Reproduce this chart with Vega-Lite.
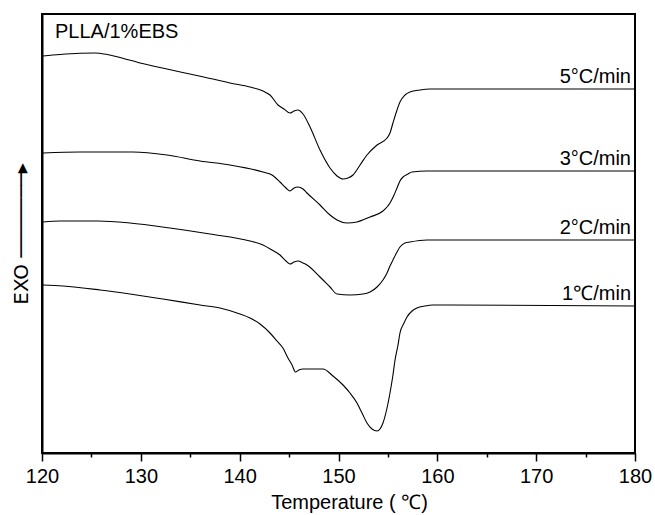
{
  "$schema": "https://vega.github.io/schema/vega-lite/v6.json",
  "autosize": {"type": "none"},
  "padding": {"left": 42, "top": 14, "right": 20, "bottom": 62},
  "width": 593,
  "height": 439,
  "background": "white",
  "config": {
    "font": "Liberation Sans",
    "view": {"stroke": "#000", "strokeWidth": 2}
  },
  "title": {
    "text": "PLLA/1%EBS",
    "anchor": "start",
    "frame": "group",
    "orient": "top",
    "offset": 0,
    "dx": 13,
    "dy": 44,
    "baseline": "alphabetic",
    "fontSize": 20,
    "fontWeight": "normal",
    "font": "Liberation Sans",
    "color": "#000"
  },
  "data": {
    "values": [
      {"rate": "5°C/min", "T": 120.10, "v": 397},
      {"rate": "5°C/min", "T": 121.82, "v": 398.5},
      {"rate": "5°C/min", "T": 123.84, "v": 399.7},
      {"rate": "5°C/min", "T": 125.36, "v": 400},
      {"rate": "5°C/min", "T": 126.50, "v": 398.7},
      {"rate": "5°C/min", "T": 127.90, "v": 395.5},
      {"rate": "5°C/min", "T": 129.92, "v": 390},
      {"rate": "5°C/min", "T": 132.65, "v": 384},
      {"rate": "5°C/min", "T": 134.97, "v": 379},
      {"rate": "5°C/min", "T": 137.30, "v": 374},
      {"rate": "5°C/min", "T": 139.02, "v": 370},
      {"rate": "5°C/min", "T": 141.04, "v": 366},
      {"rate": "5°C/min", "T": 142.36, "v": 362},
      {"rate": "5°C/min", "T": 143.07, "v": 358},
      {"rate": "5°C/min", "T": 143.88, "v": 348},
      {"rate": "5°C/min", "T": 144.49, "v": 344},
      {"rate": "5°C/min", "T": 145.09, "v": 340},
      {"rate": "5°C/min", "T": 145.50, "v": 342},
      {"rate": "5°C/min", "T": 145.90, "v": 343},
      {"rate": "5°C/min", "T": 146.41, "v": 339},
      {"rate": "5°C/min", "T": 147.12, "v": 326},
      {"rate": "5°C/min", "T": 148.13, "v": 303},
      {"rate": "5°C/min", "T": 149.14, "v": 285},
      {"rate": "5°C/min", "T": 149.85, "v": 277},
      {"rate": "5°C/min", "T": 150.46, "v": 274},
      {"rate": "5°C/min", "T": 150.96, "v": 275},
      {"rate": "5°C/min", "T": 151.47, "v": 278},
      {"rate": "5°C/min", "T": 152.18, "v": 288},
      {"rate": "5°C/min", "T": 152.88, "v": 298},
      {"rate": "5°C/min", "T": 153.90, "v": 308},
      {"rate": "5°C/min", "T": 154.91, "v": 315},
      {"rate": "5°C/min", "T": 155.21, "v": 320},
      {"rate": "5°C/min", "T": 155.51, "v": 330},
      {"rate": "5°C/min", "T": 155.92, "v": 343},
      {"rate": "5°C/min", "T": 156.22, "v": 351},
      {"rate": "5°C/min", "T": 156.73, "v": 358},
      {"rate": "5°C/min", "T": 157.23, "v": 361},
      {"rate": "5°C/min", "T": 158.25, "v": 363},
      {"rate": "5°C/min", "T": 159.26, "v": 364},
      {"rate": "5°C/min", "T": 161.28, "v": 364},
      {"rate": "5°C/min", "T": 180.00, "v": 364},

      {"rate": "3°C/min", "T": 120.10, "v": 300},
      {"rate": "3°C/min", "T": 123.84, "v": 301},
      {"rate": "3°C/min", "T": 129.21, "v": 301},
      {"rate": "3°C/min", "T": 132.65, "v": 298},
      {"rate": "3°C/min", "T": 135.99, "v": 292},
      {"rate": "3°C/min", "T": 139.02, "v": 288},
      {"rate": "3°C/min", "T": 142.36, "v": 281},
      {"rate": "3°C/min", "T": 143.27, "v": 278},
      {"rate": "3°C/min", "T": 144.08, "v": 271},
      {"rate": "3°C/min", "T": 144.69, "v": 265},
      {"rate": "3°C/min", "T": 145.09, "v": 262},
      {"rate": "3°C/min", "T": 145.50, "v": 265},
      {"rate": "3°C/min", "T": 145.90, "v": 266},
      {"rate": "3°C/min", "T": 146.41, "v": 264},
      {"rate": "3°C/min", "T": 146.81, "v": 260},
      {"rate": "3°C/min", "T": 148.13, "v": 248},
      {"rate": "3°C/min", "T": 149.14, "v": 238},
      {"rate": "3°C/min", "T": 149.85, "v": 233},
      {"rate": "3°C/min", "T": 150.86, "v": 230},
      {"rate": "3°C/min", "T": 151.87, "v": 231},
      {"rate": "3°C/min", "T": 153.19, "v": 236},
      {"rate": "3°C/min", "T": 154.50, "v": 242},
      {"rate": "3°C/min", "T": 154.91, "v": 246},
      {"rate": "3°C/min", "T": 155.21, "v": 250},
      {"rate": "3°C/min", "T": 155.62, "v": 258},
      {"rate": "3°C/min", "T": 155.92, "v": 265},
      {"rate": "3°C/min", "T": 156.22, "v": 272},
      {"rate": "3°C/min", "T": 156.53, "v": 276},
      {"rate": "3°C/min", "T": 157.03, "v": 279},
      {"rate": "3°C/min", "T": 157.44, "v": 281},
      {"rate": "3°C/min", "T": 158.95, "v": 282},
      {"rate": "3°C/min", "T": 161.28, "v": 282},
      {"rate": "3°C/min", "T": 180.00, "v": 282},

      {"rate": "2°C/min", "T": 120.10, "v": 231},
      {"rate": "2°C/min", "T": 121.82, "v": 232},
      {"rate": "2°C/min", "T": 125.67, "v": 232},
      {"rate": "2°C/min", "T": 128.90, "v": 230},
      {"rate": "2°C/min", "T": 132.95, "v": 225},
      {"rate": "2°C/min", "T": 137.00, "v": 219},
      {"rate": "2°C/min", "T": 141.04, "v": 212},
      {"rate": "2°C/min", "T": 142.36, "v": 208},
      {"rate": "2°C/min", "T": 143.27, "v": 203},
      {"rate": "2°C/min", "T": 144.08, "v": 198},
      {"rate": "2°C/min", "T": 144.69, "v": 192},
      {"rate": "2°C/min", "T": 145.09, "v": 189},
      {"rate": "2°C/min", "T": 145.50, "v": 191},
      {"rate": "2°C/min", "T": 145.90, "v": 192},
      {"rate": "2°C/min", "T": 146.41, "v": 190},
      {"rate": "2°C/min", "T": 146.81, "v": 188},
      {"rate": "2°C/min", "T": 148.13, "v": 176},
      {"rate": "2°C/min", "T": 149.14, "v": 166},
      {"rate": "2°C/min", "T": 149.85, "v": 159},
      {"rate": "2°C/min", "T": 151.16, "v": 158},
      {"rate": "2°C/min", "T": 152.48, "v": 159},
      {"rate": "2°C/min", "T": 153.19, "v": 161},
      {"rate": "2°C/min", "T": 153.90, "v": 166},
      {"rate": "2°C/min", "T": 154.50, "v": 173},
      {"rate": "2°C/min", "T": 154.91, "v": 180},
      {"rate": "2°C/min", "T": 155.21, "v": 187},
      {"rate": "2°C/min", "T": 155.51, "v": 193},
      {"rate": "2°C/min", "T": 155.92, "v": 201},
      {"rate": "2°C/min", "T": 156.22, "v": 206},
      {"rate": "2°C/min", "T": 156.73, "v": 210},
      {"rate": "2°C/min", "T": 157.23, "v": 211},
      {"rate": "2°C/min", "T": 158.95, "v": 213},
      {"rate": "2°C/min", "T": 161.28, "v": 213},
      {"rate": "2°C/min", "T": 180.00, "v": 213},

      {"rate": "1℃/min", "T": 120.10, "v": 168},
      {"rate": "1℃/min", "T": 122.12, "v": 167},
      {"rate": "1℃/min", "T": 125.87, "v": 163},
      {"rate": "1℃/min", "T": 128.90, "v": 159},
      {"rate": "1℃/min", "T": 132.24, "v": 154},
      {"rate": "1℃/min", "T": 135.99, "v": 148},
      {"rate": "1℃/min", "T": 138.01, "v": 145},
      {"rate": "1℃/min", "T": 140.03, "v": 139},
      {"rate": "1℃/min", "T": 141.04, "v": 135},
      {"rate": "1℃/min", "T": 142.06, "v": 129},
      {"rate": "1℃/min", "T": 143.07, "v": 120},
      {"rate": "1℃/min", "T": 143.78, "v": 112},
      {"rate": "1℃/min", "T": 144.38, "v": 105},
      {"rate": "1℃/min", "T": 144.89, "v": 95},
      {"rate": "1℃/min", "T": 145.30, "v": 88},
      {"rate": "1℃/min", "T": 145.65, "v": 81},
      {"rate": "1℃/min", "T": 146.00, "v": 83},
      {"rate": "1℃/min", "T": 146.40, "v": 84},
      {"rate": "1℃/min", "T": 147.12, "v": 84},
      {"rate": "1℃/min", "T": 148.43, "v": 84},
      {"rate": "1℃/min", "T": 149.44, "v": 77},
      {"rate": "1℃/min", "T": 150.46, "v": 68},
      {"rate": "1℃/min", "T": 151.16, "v": 60},
      {"rate": "1℃/min", "T": 151.87, "v": 50},
      {"rate": "1℃/min", "T": 152.38, "v": 40},
      {"rate": "1℃/min", "T": 152.88, "v": 30},
      {"rate": "1℃/min", "T": 153.39, "v": 24},
      {"rate": "1℃/min", "T": 153.90, "v": 22},
      {"rate": "1℃/min", "T": 154.20, "v": 24},
      {"rate": "1℃/min", "T": 154.50, "v": 30},
      {"rate": "1℃/min", "T": 154.91, "v": 45},
      {"rate": "1℃/min", "T": 155.21, "v": 60},
      {"rate": "1℃/min", "T": 155.51, "v": 78},
      {"rate": "1℃/min", "T": 155.72, "v": 93},
      {"rate": "1℃/min", "T": 156.02, "v": 108},
      {"rate": "1℃/min", "T": 156.22, "v": 120},
      {"rate": "1℃/min", "T": 156.63, "v": 130},
      {"rate": "1℃/min", "T": 156.93, "v": 136},
      {"rate": "1℃/min", "T": 157.44, "v": 142},
      {"rate": "1℃/min", "T": 157.94, "v": 145},
      {"rate": "1℃/min", "T": 158.75, "v": 147},
      {"rate": "1℃/min", "T": 159.56, "v": 148},
      {"rate": "1℃/min", "T": 161.28, "v": 148},
      {"rate": "1℃/min", "T": 180.00, "v": 147}
    ]
  },
  "encoding": {
    "x": {
      "field": "T",
      "type": "quantitative",
      "scale": {"domain": [120, 180], "nice": false, "zero": false},
      "axis": {
        "title": "Temperature ( ℃)",
        "titleFontSize": 20,
        "titleFontWeight": "normal",
        "titleFont": "Liberation Sans",
        "titleColor": "#000",
        "titlePadding": 6,
        "titleX": 307,
        "values": [120, 125, 130, 135, 140, 145, 150, 155, 160, 165, 170, 175, 180],
        "labelExpr": "datum.value % 10 === 0 ? datum.label : ''",
        "labelFontSize": 20,
        "labelColor": "#000",
        "labelPadding": 5,
        "labelFlush": false,
        "labelOverlap": false,
        "tickSize": {"condition": {"test": "datum.value % 10 !== 0", "value": 4}, "value": 8},
        "tickColor": "#000",
        "tickWidth": 1.5,
        "domainColor": "#000",
        "domainWidth": 2,
        "grid": false
      }
    },
    "y": {
      "field": "v",
      "type": "quantitative",
      "scale": {"domain": [0, 439], "nice": false, "zero": false},
      "axis": {
        "title": "EXO   ───────▸",
        "titleFont": "DejaVu Sans",
        "titleFontSize": 20,
        "titleFontWeight": "normal",
        "titleColor": "#000",
        "titlePadding": 11,
        "labels": false,
        "ticks": false,
        "grid": false,
        "domainColor": "#000",
        "domainWidth": 2
      }
    }
  },
  "layer": [
    {
      "mark": {"type": "line", "color": "#000", "strokeWidth": 1.1, "interpolate": "monotone"},
      "encoding": {"detail": {"field": "rate"}}
    },
    {
      "transform": [{"filter": "datum.T === 180"}],
      "mark": {"type": "text", "align": "right", "baseline": "alphabetic", "dx": -4, "dy": -6, "fontSize": 20, "color": "#000", "font": "Liberation Sans"},
      "encoding": {"text": {"field": "rate"}}
    }
  ]
}
